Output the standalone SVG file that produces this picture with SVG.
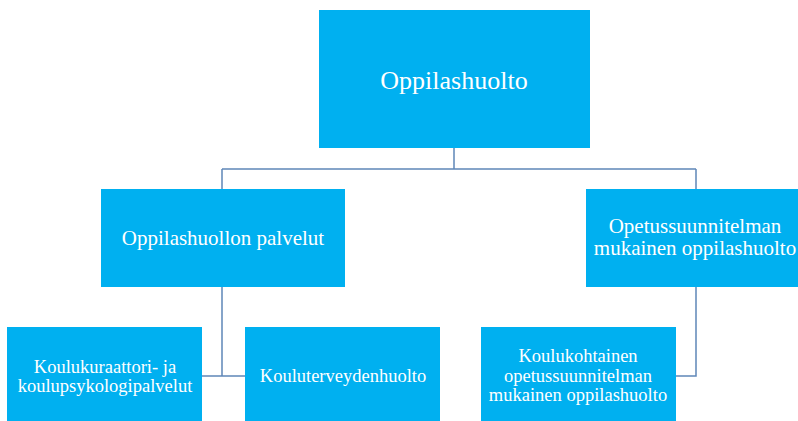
<svg xmlns="http://www.w3.org/2000/svg" width="798" height="421" viewBox="0 0 798 421">
<style>
.box{fill:#00b0f0}
.t{font-family:"Liberation Serif","Times New Roman",serif;fill:#ffffff;text-anchor:middle}
.l1{font-size:26px}
.l2{font-size:21px}
.l3{font-size:18.5px}
.c{fill:none;stroke:#5f86b8;stroke-width:1.5}
</style>
<rect width="798" height="421" fill="#ffffff"/>
<g id="connectors">
<path class="c" d="M454,148 V169 M222,169 H696 M222,169 V189 M696,169 V189"/>
<path class="c" d="M222,287 V376 M202,376 H245"/>
<path class="c" d="M696,287 V376 H676"/>
</g>
<g id="n-root">
<rect class="box" x="319" y="10" width="271" height="138"/>
<text class="t l1" x="454" y="89">Oppilashuolto</text>
</g>
<g id="n-palvelut">
<rect class="box" x="101" y="189" width="244" height="98"/>
<text class="t l2" x="223" y="245">Oppilashuollon palvelut</text>
</g>
<g id="n-ops">
<rect class="box" x="586" y="189" width="212" height="98"/>
<text class="t l2" x="695" y="233">Opetussuunnitelman</text>
<text class="t l2" x="695" y="255">mukainen oppilashuolto</text>
</g>
<g id="n-kuraattori">
<rect class="box" x="7" y="327" width="195" height="94"/>
<text class="t l3" x="105" y="373">Koulukuraattori- ja</text>
<text class="t l3" x="105" y="392">koulupsykologipalvelut</text>
</g>
<g id="n-terveys">
<rect class="box" x="245" y="327" width="195" height="94"/>
<text class="t l3" x="343" y="382">Kouluterveydenhuolto</text>
</g>
<g id="n-koulukohtainen">
<rect class="box" x="481" y="327" width="195" height="94"/>
<text class="t l3" x="578" y="362">Koulukohtainen</text>
<text class="t l3" x="578" y="382">opetussuunnitelman</text>
<text class="t l3" x="578" y="401">mukainen oppilashuolto</text>
</g>
</svg>
